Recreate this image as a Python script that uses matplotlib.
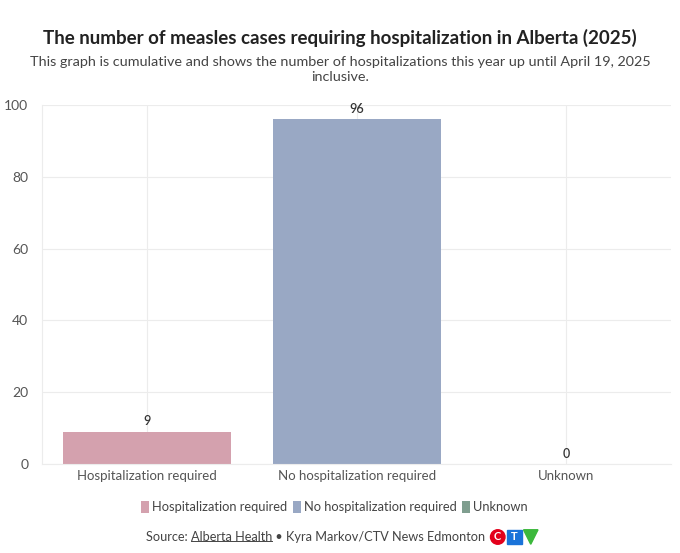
import matplotlib.pyplot as plt
from matplotlib.patches import Patch, Circle, Rectangle, Polygon
from matplotlib.lines import Line2D

plt.rcParams['font.family'] = ['Lato', 'DejaVu Sans']

categories = ['Hospitalization required', 'No hospitalization required', 'Unknown']
cases = [9, 96, 0]
colors = ['#d4a1ae', '#99a8c4', '#7f9e8f']
yticks = [0, 20, 40, 60, 80, 100]

fig = plt.figure(figsize=(6.8, 5.53), dpi=100)
ax = fig.add_axes([0.062, 0.161, 0.925, 0.649])

bars = ax.bar(range(len(categories)), cases, 0.8, color=colors, zorder=2)
ax.bar_label(bars, labels=[str(v) for v in cases], padding=3, fontsize=9,
             color='#333333', fontweight='semibold')

ax.set_xlim(-0.5, 2.5)
ax.set_ylim(0, 100)
ax.set_yticks(yticks)
ax.set_xticks(range(len(categories)))
ax.set_xticklabels(categories)
ax.tick_params(axis='both', length=0, labelsize=9.5, labelcolor='#555555')
ax.tick_params(axis='y', labelsize=10, pad=10)
ax.tick_params(axis='x', pad=4)
ax.grid(True, color='#ececec', linewidth=0.8, zorder=0)
for side in ['top', 'right']:
    ax.spines[side].set_visible(False)
ax.spines['left'].set_color('#ececec')
ax.spines['bottom'].set_color('#ececec')

fig.text(0.5, 0.931, 'The number of measles cases requiring hospitalization in Alberta (2025)',
         ha='center', va='center', fontsize=13.5, fontweight='bold', color='#222222')
fig.text(0.5, 0.888, 'This graph is cumulative and shows the number of hospitalizations this year up until April 19, 2025',
         ha='center', va='center', fontsize=10.4, color='#444444')
fig.text(0.5, 0.861, 'inclusive.', ha='center', va='center', fontsize=10.4, color='#444444')

handles = [Patch(facecolor=c, label=l) for c, l in zip(colors, categories)]
fig.legend(handles=handles, loc='center', bbox_to_anchor=(0.492, 0.083), ncol=3,
           frameon=False, fontsize=9.3, handlelength=0.6, handleheight=1.1,
           handletextpad=0.25, columnspacing=0.45, labelcolor='#444444')

# source line
t1 = fig.text(146 / 680, 1 - 537 / 553, 'Source: ', ha='left', va='center',
              fontsize=9.2, color='#444444')
t2 = ax.annotate('Alberta Health', xy=(1, 0), xycoords=t1, va='bottom', ha='left',
                 fontsize=9.2, color='#444444', annotation_clip=False)
t3 = ax.annotate(' \u2022 Kyra Markov/CTV News Edmonton', xy=(1, 0), xycoords=t2,
                 va='bottom', ha='left', fontsize=9.2, color='#444444',
                 annotation_clip=False)
fig.canvas.draw()
bb = t2.get_window_extent()
inv = fig.transFigure.inverted()
(x0, y0), (x1, _) = inv.transform([(bb.x0, bb.y0 + 2), (bb.x1, bb.y0 + 2)])
fig.add_artist(Line2D([x0, x1], [y0, y0], color='#444444', linewidth=0.7,
                      transform=fig.transFigure))

# CTV logo
e = t3.get_window_extent()
lx = e.x1 + 5
cy = (e.y0 + e.y1) / 2
s = 14.5
fig.add_artist(Circle((lx + s / 2, cy), s / 2, color='#e3001b', transform=None))
fig.text(lx + s / 2, cy, 'C', transform=None, ha='center', va='center',
         fontsize=8, fontweight='bold', color='white')
fig.add_artist(Rectangle((lx + s + 2, cy - s / 2), s, s, color='#1a73d9', transform=None))
fig.text(lx + 1.5 * s + 2, cy, 'T', transform=None, ha='center', va='center',
         fontsize=8, fontweight='bold', color='white')
tx = lx + 2 * s + 4
fig.add_artist(Polygon([(tx, cy + s / 2), (tx + s, cy + s / 2), (tx + s / 2, cy - s / 2)],
                       closed=True, color='#3cb83c', transform=None))

fig.savefig('out.png', dpi=100, facecolor='white')
